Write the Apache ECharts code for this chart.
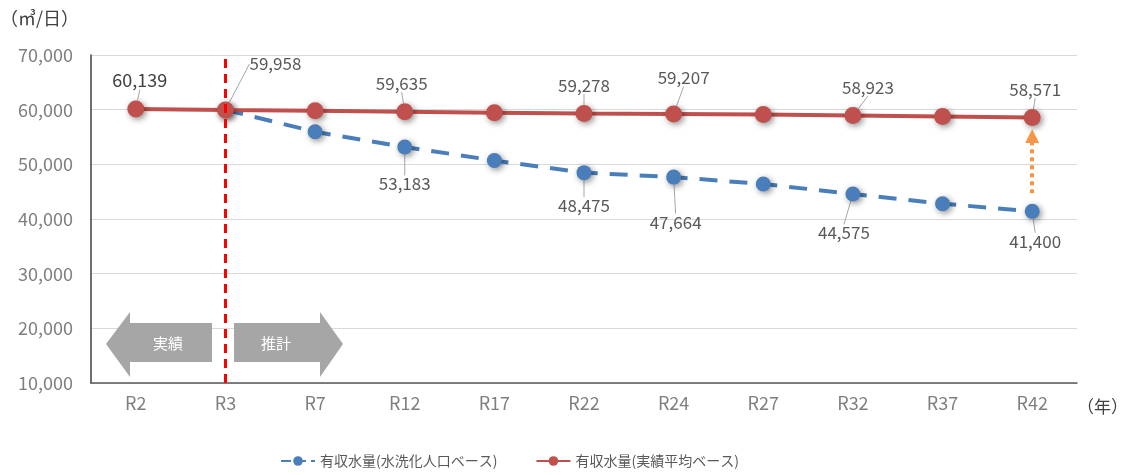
<!DOCTYPE html>
<html><head><meta charset="utf-8">
<script src="https://cdn.jsdelivr.net/npm/echarts@6/dist/echarts.min.js"></script>
<style>html,body{margin:0;padding:0;background:#fff}#c{width:1129px;height:475px}</style>
</head><body><div id="c"></div>
<script>
const categories = ['R2','R3','R7','R12','R17','R22','R24','R27','R32','R37','R42'];
const actualAvg = [60139, 59958, 59800, 59635, 59450, 59278, 59207, 59100, 58923, 58750, 58571];
const sewerBase = [null, 59958, 55950, 53183, 50700, 48475, 47664, 46400, 44575, 42800, 41400];
const yTicks = [10000, 70000, 10000]; // min, max, interval
const seriesNames = ['有収水量(水洗化人口ベース)', '有収水量(実績平均ベース)'];
const gapArrow = [44700, 55200]; // orange arrow from/to at R42
// which points show labels
const redLabelIdx = [0, 1, 3, 5, 6, 8, 10];
const blueLabelIdx = [3, 5, 6, 8, 10];

const FONT = '"Noto Sans CJK JP", "Noto Sans", sans-serif';
const TXT = '#595959';
const fmt = v => Number(v).toLocaleString('en-US');

const redOff = {0:[4,-6],1:[50,-24],3:[-3,-6],5:[0,-6],6:[10,-14],8:[15,-6],10:[3,-6]};
const blueOff = {3:[0,16],5:[0,12],6:[2,24],8:[-9,18],10:[3,9]};

const shadow = {shadowBlur:6, shadowColor:'rgba(0,0,0,0.45)', shadowOffsetX:2, shadowOffsetY:2};

const redData = actualAvg.map((v,i) => ({
  value:v,
  label:{show:redLabelIdx.includes(i), fontSize: i===0 ? 18 : 17, color: i===0 ? '#404040' : TXT}
}));
const blueData = sewerBase.map((v,i) => ({
  value: v === null ? '-' : v,
  label:{show:blueLabelIdx.includes(i)}
}));

const chart = echarts.init(document.getElementById('c'), null, {renderer:'canvas'});
chart.setOption({
  animation:false,
  textStyle:{fontFamily:FONT},
  grid:{left:91, right:52, top:55, bottom:92, containLabel:false, outerBoundsMode:'none'},
  legend:{
    left:275, bottom:2, itemWidth:34, itemHeight:12, itemGap:38,
    textStyle:{color:TXT, fontSize:14, fontFamily:FONT},
    data:[{name:seriesNames[0], lineStyle:{type:[10,5]}}, {name:seriesNames[1]}]
  },
  xAxis:{
    type:'category', data:categories, boundaryGap:true,
    axisLine:{lineStyle:{color:'#595959', width:1.5}},
    axisTick:{show:false},
    axisLabel:{color:'#7f7f7f', fontSize:18, margin:11, fontFamily:FONT},
    name:'（年）', nameLocation:'end', nameGap:0,
    nameTextStyle:{color:'#404040', fontSize:17, verticalAlign:'top', padding:[15,0,0,0], fontFamily:FONT}
  },
  yAxis:{
    type:'value', min:yTicks[0], max:yTicks[1], interval:yTicks[2],
    axisLine:{show:true, lineStyle:{color:'#404040', width:1.5}},
    axisTick:{show:false},
    splitLine:{lineStyle:{color:'#d9d9d9', width:1}},
    axisLabel:{color:'#7f7f7f', fontSize:18, margin:18, formatter:v=>fmt(v), fontFamily:FONT},
    name:'（㎥/日）', nameLocation:'end', nameGap:37,
    nameTextStyle:{color:'#404040', fontSize:18, align:'right', verticalAlign:'middle', padding:[0,12,0,0], fontFamily:FONT}
  },
  series:[
    {
      name:seriesNames[0], type:'line', data:blueData, z:3,
      symbol:'circle', symbolSize:15,
      lineStyle:{color:'#4a7ebb', width:4, type:[18,12]},
      itemStyle:Object.assign({color:'#4a7ebb'}, shadow),
      label:{show:true, position:'bottom', color:TXT, fontSize:17, fontFamily:FONT, formatter:p => fmt(p.value)},
      labelLine:{show:true, lineStyle:{color:'#a6a6a6', width:1}},
      labelLayout:p => { const o = blueOff[p.dataIndex]; return o ? {dx:o[0], dy:o[1]} : {}; },
      markLine:{
        silent:true, symbol:['none','triangle'], symbolSize:[14,14],
        label:{show:false},
        lineStyle:{color:'#f79646', width:4, type:[4,4]},
        data:[[{coord:['R42', gapArrow[0]]}, {coord:['R42', gapArrow[1]]}]]
      }
    },
    {
      name:seriesNames[1], type:'line', data:redData, z:4,
      symbol:'circle', symbolSize:17,
      lineStyle:{color:'#c0504d', width:4},
      itemStyle:Object.assign({color:'#c0504d'}, shadow),
      label:{show:true, position:'top', color:TXT, fontSize:17, fontFamily:FONT, formatter:p => fmt(p.value)},
      labelLine:{show:true, lineStyle:{color:'#a6a6a6', width:1}},
      labelLayout:p => { const o = redOff[p.dataIndex]; return o ? {dx:o[0], dy:o[1]} : {}; },
      markLine:{
        silent:true, symbol:['none','none'], label:{show:false},
        lineStyle:{color:'#ff0000', width:3, type:[9,6]},
        data:[{xAxis:'R3'}]
      }
    }
  ],
  graphic:[
    {type:'polygon', z:1, shape:{points:[[106,344],[130,312],[130,323],[212,323],[212,362],[130,362],[130,377]]}, style:{fill:'#a6a6a6'}},
    {type:'polygon', z:1, shape:{points:[[234,323],[320,323],[320,312],[343,344],[320,377],[320,362],[234,362]]}, style:{fill:'#a6a6a6'}},
    {type:'text', z:2, style:{text:'実績', x:168, y:343, align:'center', verticalAlign:'middle', fill:'#fff', fontSize:15, fontFamily:FONT}},
    {type:'text', z:2, style:{text:'推計', x:276, y:343, align:'center', verticalAlign:'middle', fill:'#fff', fontSize:15, fontFamily:FONT}}
  ]
});
</script>
</body></html>
